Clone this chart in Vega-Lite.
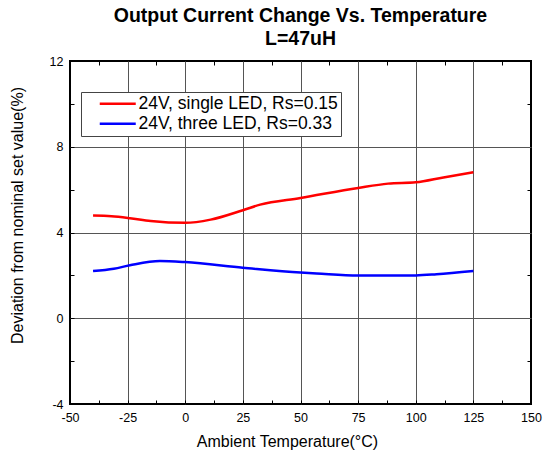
{
  "$schema": "https://vega.github.io/schema/vega-lite/v6.json",
  "width": 461,
  "height": 343,
  "autosize": {"type": "none"},
  "padding": {"left": 70, "top": 61, "right": 16, "bottom": 51},
  "background": "white",
  "title": {
    "text": "Output Current Change Vs. Temperature",
    "subtitle": "L=47uH",
    "anchor": "middle",
    "font": "Liberation Sans",
    "fontSize": 19.5,
    "fontWeight": "bold",
    "color": "black",
    "subtitleFont": "Liberation Sans",
    "subtitleFontSize": 19.5,
    "subtitleFontWeight": "bold",
    "subtitleColor": "black",
    "subtitlePadding": 3,
    "offset": 6
  },
  "config": {
    "view": {"stroke": "black", "strokeWidth": 2},
    "font": "Liberation Sans",
    "legend": {
      "orient": "none",
      "padding": 3,
      "rowPadding": 1,
      "symbolType": "M-3,0H3",
      "symbolSize": 144,
      "symbolStrokeWidth": 2.5,
      "symbolOffset": 25,
      "labelOffset": 12,
      "labelFont": "Liberation Sans",
      "labelFontSize": 17.5,
      "labelColor": "black",
      "labelLimit": 400,
      "title": null
    }
  },
  "data": {
    "values": [
      {"series": "24V, single LED, Rs=0.15", "temp": -40, "dev": 4.79},
      {"series": "24V, single LED, Rs=0.15", "temp": -32, "dev": 4.76},
      {"series": "24V, single LED, Rs=0.15", "temp": -24, "dev": 4.67},
      {"series": "24V, single LED, Rs=0.15", "temp": -15, "dev": 4.54},
      {"series": "24V, single LED, Rs=0.15", "temp": 0, "dev": 4.45},
      {"series": "24V, single LED, Rs=0.15", "temp": 11, "dev": 4.6},
      {"series": "24V, single LED, Rs=0.15", "temp": 25, "dev": 5.04},
      {"series": "24V, single LED, Rs=0.15", "temp": 32.5, "dev": 5.3},
      {"series": "24V, single LED, Rs=0.15", "temp": 50, "dev": 5.61},
      {"series": "24V, single LED, Rs=0.15", "temp": 75, "dev": 6.08},
      {"series": "24V, single LED, Rs=0.15", "temp": 88, "dev": 6.28},
      {"series": "24V, single LED, Rs=0.15", "temp": 100, "dev": 6.34},
      {"series": "24V, single LED, Rs=0.15", "temp": 112, "dev": 6.57},
      {"series": "24V, single LED, Rs=0.15", "temp": 125, "dev": 6.81},
      {"series": "24V, three LED, Rs=0.33", "temp": -40, "dev": 2.2},
      {"series": "24V, three LED, Rs=0.33", "temp": -31, "dev": 2.31},
      {"series": "24V, three LED, Rs=0.33", "temp": -24, "dev": 2.47},
      {"series": "24V, three LED, Rs=0.33", "temp": -11, "dev": 2.67},
      {"series": "24V, three LED, Rs=0.33", "temp": 0, "dev": 2.62},
      {"series": "24V, three LED, Rs=0.33", "temp": 25, "dev": 2.36},
      {"series": "24V, three LED, Rs=0.33", "temp": 50, "dev": 2.13},
      {"series": "24V, three LED, Rs=0.33", "temp": 57, "dev": 2.09},
      {"series": "24V, three LED, Rs=0.33", "temp": 75, "dev": 2.0},
      {"series": "24V, three LED, Rs=0.33", "temp": 100, "dev": 2.0},
      {"series": "24V, three LED, Rs=0.33", "temp": 109, "dev": 2.05},
      {"series": "24V, three LED, Rs=0.33", "temp": 125, "dev": 2.2}
    ]
  },
  "layer": [
    {
      "mark": {"type": "line", "strokeWidth": 2.5, "interpolate": "monotone"},
      "encoding": {
        "x": {
          "field": "temp", "type": "quantitative",
          "scale": {"domain": [-50, 150], "nice": false, "zero": false},
          "axis": {
            "orient": "bottom",
            "title": "Ambient Temperature(°C)",
            "titleFont": "Liberation Sans", "titleFontSize": 16, "titleFontWeight": "normal", "titleColor": "black", "titlePadding": 10,
            "titleX": 217,
            "values": [-50, -37.5, -25, -12.5, 0, 12.5, 25, 37.5, 50, 62.5, 75, 87.5, 100, 112.5, 125, 137.5, 150],
            "labelExpr": "datum.value % 25 == 0 ? replace(datum.label, '−', '-') : ''",
            "labelFont": "Liberation Sans", "labelFontSize": 12.5, "labelColor": "black", "labelPadding": 11,
            "labelOverlap": false, "labelFlush": false,
            "domain": false,
            "ticks": true, "tickSize": -4, "tickColor": "black", "tickWidth": 1,
            "grid": true, "gridColor": "#555", "gridWidth": 1,
            "gridOpacity": {"condition": {"test": "datum.value % 25 != 0 || datum.value == -50 || datum.value == 150", "value": 0}, "value": 1}
          }
        },
        "y": {
          "field": "dev", "type": "quantitative",
          "scale": {"domain": [-4, 12], "nice": false, "zero": false},
          "axis": {
            "orient": "left",
            "title": "Deviation from nominal set value(%)",
            "titleFont": "Liberation Sans", "titleFontSize": 16, "titleFontWeight": "normal", "titleColor": "black", "titlePadding": 24,
            "titleY": 154,
            "values": [-4, -2, 0, 2, 4, 6, 8, 10, 12],
            "labelExpr": "datum.value % 4 == 0 ? replace(datum.label, '−', '-') : ''",
            "labelFont": "Liberation Sans", "labelFontSize": 12.5, "labelColor": "black", "labelPadding": 11,
            "labelOverlap": false, "labelFlush": false,
            "domain": false,
            "ticks": true, "tickSize": -4, "tickColor": "black", "tickWidth": 1,
            "grid": true, "gridColor": "#555", "gridWidth": 1,
            "gridOpacity": {"condition": {"test": "datum.value % 4 != 0 || datum.value == -4 || datum.value == 12", "value": 0}, "value": 1}
          }
        },
        "color": {
          "field": "series", "type": "nominal",
          "scale": {"domain": ["24V, single LED, Rs=0.15", "24V, three LED, Rs=0.33"], "range": ["#ff0000", "#0000ff"]},
          "legend": {
            "labelExpr": "datum.label + '\u00a0\u00a0'",
            "legendX": 11, "legendY": 31,
            "strokeColor": "#444", "fillColor": "white"
          }
        }
      }
    },
    {
      "mark": {"type": "line", "strokeOpacity": 0},
      "encoding": {
        "x": {
          "field": "temp", "type": "quantitative",
          "axis": {
            "orient": "top", "title": null, "labels": false, "domain": false, "grid": false,
            "values": [-37.5, -12.5, 12.5, 37.5, 62.5, 87.5, 112.5, 137.5],
            "ticks": true, "tickSize": -4, "tickColor": "black", "tickWidth": 1
          }
        },
        "y": {
          "field": "dev", "type": "quantitative",
          "axis": {
            "orient": "right", "title": null, "labels": false, "domain": false, "grid": false,
            "values": [-2, 2, 6, 10],
            "ticks": true, "tickSize": -4, "tickColor": "black", "tickWidth": 1
          }
        },
        "detail": {"field": "series", "type": "nominal"}
      }
    }
  ],
  "resolve": {"axis": {"x": "independent", "y": "independent"}}
}
